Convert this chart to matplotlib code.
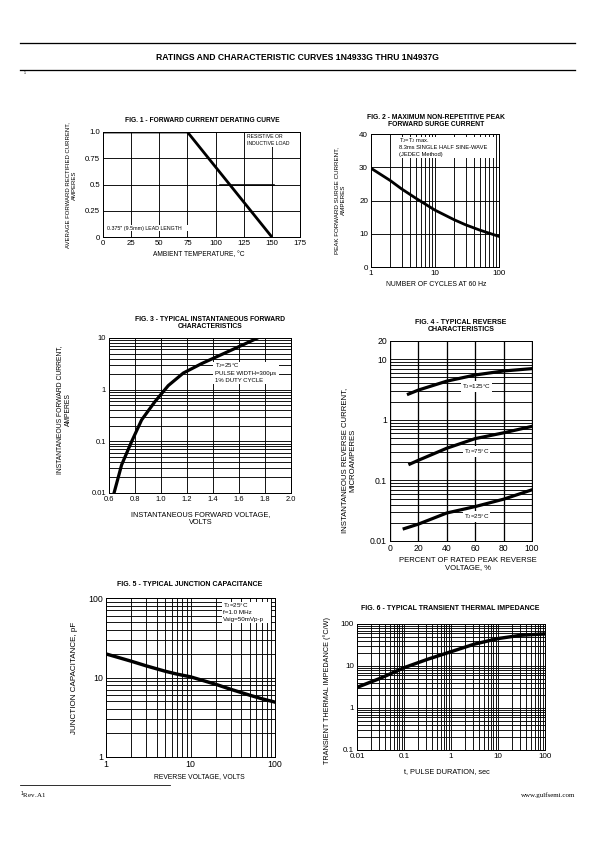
import matplotlib
matplotlib.use("Agg")
import matplotlib.pyplot as plt
import numpy as np
from matplotlib.ticker import NullFormatter, LogLocator
from matplotlib.patches import Rectangle

plt.rcParams['font.family'] = ['Liberation Sans', 'DejaVu Sans']
plt.rcParams['mathtext.fontset'] = 'custom'
plt.rcParams['mathtext.rm'] = 'Liberation Sans'
plt.rcParams['mathtext.it'] = 'Liberation Sans'

W, H = 595, 842

# ---------------- data ----------------
# Fig 1 derating
f1_temp = [0, 75, 150]
f1_curr = [1.0, 1.0, 0.0]
f1_xticks = [0, 25, 50, 75, 100, 125, 150, 175]
f1_yticks = [0, 0.25, 0.5, 0.75, 1.0]
f1_yticklabels = ["0", "0.25", "0.5", "0.75", "1.0"]

# Fig 2 surge
f2_cycles = [1, 2, 3, 5, 10, 20, 30, 50, 100]
f2_surge = [29.7, 26.0, 23.5, 20.7, 17.1, 14.2, 12.7, 11.1, 9.2]

# Fig 3 forward
f3_volt = [0.641, 0.697, 0.774, 0.851, 0.954, 1.056, 1.172, 1.313, 1.467, 1.621, 1.736]
f3_curr = [0.0105, 0.035, 0.099, 0.26, 0.59, 1.2, 2.1, 3.2, 4.8, 7.2, 9.8]

# Fig 4 reverse
f4_pct_125 = [13, 20, 40, 60, 80, 100]
f4_cur_125 = [2.66, 3.1, 4.35, 5.5, 6.4, 7.0]
f4_pct_75 = [14, 20, 40, 60, 80, 100]
f4_cur_75 = [0.186, 0.215, 0.34, 0.49, 0.61, 0.78]
f4_pct_25 = [10, 20, 40, 60, 80, 100]
f4_cur_25 = [0.016, 0.019, 0.029, 0.037, 0.049, 0.070]

# Fig 5 capacitance
f5_volt = [1, 2, 3, 5, 7, 10, 20, 30, 50, 70, 100]
f5_cap = [19.8, 16.0, 14.0, 12.0, 11.0, 10.2, 8.2, 7.1, 6.0, 5.4, 4.9]

# Fig 6 thermal impedance
f6_time = [0.01, 0.0314, 0.1, 0.314, 1, 3.1, 10, 31, 100]
f6_imp = [3.1, 5.1, 9.1, 14.4, 21.9, 33, 45, 54, 58]

fig = plt.figure(figsize=(W / 72, H / 72), dpi=72)


def rect(l, t, r, b):
    return [l / W, 1 - b / H, (r - l) / W, (b - t) / H]


def ftext(x, y, s, **kw):
    fig.text(x / W, 1 - y / H, s, **kw)


def style(ax, fs=8):
    for sp in ax.spines.values():
        sp.set_color('black')
        sp.set_linewidth(1.0)
    ax.tick_params(which='both', length=0, labelsize=fs, pad=3)
    ax.set_axisbelow(True)


def block(ax, x, ys, lines, fs, width, ha='left'):
    """White box with lines of text in axes coordinates."""
    step = (ys[0] - ys[-1]) / max(len(ys) - 1, 1) if len(ys) > 1 else 0.05
    top = ys[0] + step * 0.55
    bot = ys[-1] - step * 0.55
    ax.add_patch(Rectangle((x - 0.01, bot), width, top - bot, transform=ax.transAxes,
                           facecolor='white', edgecolor='none', zorder=3))
    for y, s in zip(ys, lines):
        ax.text(x, y, s, transform=ax.transAxes, fontsize=fs, ha=ha, va='center', zorder=4)


GL = dict(color='black', linewidth=0.9)

# ---------------- header/footer ----------------
fig.add_artist(plt.Line2D([20 / W, 575 / W], [1 - 43 / H, 1 - 43 / H], color='black', lw=1.3))
fig.add_artist(plt.Line2D([20 / W, 575 / W], [1 - 69.5 / H, 1 - 69.5 / H], color='black', lw=1.3))
ftext(297, 57, "RATINGS AND CHARACTERISTIC CURVES 1N4933G THRU 1N4937G",
      ha='center', va='center', fontsize=8.6, fontweight='bold')
ftext(25, 73, "1", ha='center', va='center', fontsize=3.5)
fig.add_artist(plt.Line2D([20 / W, 170 / W], [1 - 784.5 / H, 1 - 784.5 / H], color='black', lw=0.8))
ftext(20, 795, "$^{1}$Rev.A1", ha='left', va='center', fontsize=7, family='Liberation Serif')
ftext(575, 795, "www.gulfsemi.com", ha='right', va='center', fontsize=7, family='Liberation Serif')

# ---------------- Fig 1 ----------------
ax1 = fig.add_axes(rect(103, 132, 300, 237))
ax1.set_xlim(0, 175)
ax1.set_ylim(0, 1.0)
ax1.set_xticks(f1_xticks)
ax1.set_yticks(f1_yticks)
ax1.set_yticklabels(f1_yticklabels)
ax1.grid(True, **GL)
ax1.plot(f1_temp, f1_curr, color='black', lw=2.8, solid_capstyle='butt', zorder=5)
ax1.plot([104, 152], [0.5, 0.5], color='black', lw=1.6, zorder=5)
style(ax1, 7.8)
block(ax1, 0.729, [0.955, 0.892], ["RESISTIVE OR", "INDUCTIVE LOAD"], 5.1, 0.27)
block(ax1, 0.019, [0.083], ["0.375\" (9.5mm) LEAD LENGTH"], 5.3, 0.45)
ftext(202, 120, "FIG. 1 - FORWARD CURRENT DERATING CURVE", ha='center', va='center',
      fontsize=6.6, fontweight='bold')
ftext(199, 255, "AMBIENT TEMPERATURE, °C", ha='center', va='center', fontsize=6.6)
ftext(71, 185, "AVERAGE FORWARD RECTIFIED CURRENT,\nAMPERES", ha='center', va='center',
      rotation=90, fontsize=6.0, linespacing=1.35)

# ---------------- Fig 2 ----------------
ax2 = fig.add_axes(rect(371, 134, 499, 267))
ax2.set_xscale('log')
ax2.set_xlim(1, 100)
ax2.set_ylim(0, 40)
ax2.set_yticks([0, 10, 20, 30, 40])
ax2.set_xticks([1, 10, 100])
ax2.set_xticklabels(["1", "10", "100"])
ax2.xaxis.set_minor_locator(LogLocator(base=10, subs=np.arange(2, 10)))
ax2.xaxis.set_minor_formatter(NullFormatter())
ax2.grid(True, which='both', axis='x', **GL)
ax2.grid(True, which='major', axis='y', **GL)
ax2.plot(f2_cycles, f2_surge, color='black', lw=2.8, zorder=5)
style(ax2, 8)
block(ax2, 0.22, [0.95, 0.895, 0.845],
      ["T$_J$=T$_J$ max.", "8.3ms SINGLE HALF SINE-WAVE", "(JEDEC Method)"], 5.8, 0.76)
ftext(436, 121, "FIG. 2 - MAXIMUM NON-REPETITIVE PEAK\nFORWARD SURGE CURRENT", ha='center',
      va='center', fontsize=6.7, fontweight='bold', linespacing=1.15)
ftext(436, 284, "NUMBER OF CYCLES AT 60 Hz", ha='center', va='center', fontsize=6.9)
ftext(340, 200, "PEAK FORWARD SURGE CURRENT,\nAMPERES", ha='center', va='center',
      rotation=90, fontsize=6.2, linespacing=1.35)

# ---------------- Fig 3 ----------------
ax3 = fig.add_axes(rect(109, 338, 291, 493))
ax3.set_yscale('log')
ax3.set_xlim(0.6, 2.0)
ax3.set_ylim(0.01, 10)
ax3.set_xticks([0.6, 0.8, 1.0, 1.2, 1.4, 1.6, 1.8, 2.0])
ax3.set_xticklabels(["0.6", "0.8", "1.0", "1.2", "1.4", "1.6", "1.8", "2.0"])
ax3.set_yticks([0.01, 0.1, 1, 10])
ax3.set_yticklabels(["0.01", "0.1", "1", "10"])
ax3.yaxis.set_minor_locator(LogLocator(base=10, subs=np.arange(2, 10)))
ax3.yaxis.set_minor_formatter(NullFormatter())
ax3.grid(True, which='both', axis='y', **GL)
ax3.grid(True, which='major', axis='x', **GL)
ax3.plot(f3_volt, f3_curr, color='black', lw=3.2, zorder=5)
style(ax3, 7.5)
block(ax3, 0.582, [0.82, 0.774, 0.729],
      ["T$_J$=25°C", "PULSE WIDTH=300μs", "1% DUTY CYCLE"], 6.0, 0.36)
ftext(210, 323, "FIG. 3 - TYPICAL INSTANTANEOUS FORWARD\nCHARACTERISTICS", ha='center',
      va='center', fontsize=6.8, fontweight='bold', linespacing=1.15)
ftext(201, 519, "INSTANTANEOUS FORWARD VOLTAGE,\nVOLTS", ha='center', va='center',
      fontsize=7.4, linespacing=1.2)
ftext(64, 410, "INSTANTANEOUS FORWARD CURRENT,\nAMPERES", ha='center', va='center',
      rotation=90, fontsize=6.7, linespacing=1.35)

# ---------------- Fig 4 ----------------
ax4 = fig.add_axes(rect(390, 341, 532, 541))
ax4.set_yscale('log')
ax4.set_xlim(0, 100)
ax4.set_ylim(0.01, 20)
ax4.set_xticks([0, 20, 40, 60, 80, 100])
ax4.set_yticks([0.01, 0.1, 1, 10, 20])
ax4.set_yticklabels(["0.01", "0.1", "1", "10", "20"])
ax4.yaxis.set_minor_locator(LogLocator(base=10, subs=np.arange(2, 10)))
ax4.yaxis.set_minor_formatter(NullFormatter())
ax4.grid(True, which='both', axis='y', **GL)
ax4.grid(True, which='major', axis='x', color='black', linewidth=1.3)
ax4.plot(f4_pct_125, f4_cur_125, color='black', lw=3.2, zorder=5)
ax4.plot(f4_pct_75, f4_cur_75, color='black', lw=3.2, zorder=5)
ax4.plot(f4_pct_25, f4_cur_25, color='black', lw=3.2, zorder=5)
style(ax4, 8.6)
for xv, yv, s in [(61, 3.5, "T$_J$=125°C"), (61, 0.30, "T$_J$=75°C"), (61, 0.025, "T$_J$=25°C")]:
    ax4.text(xv, yv, s, fontsize=6.2, ha='center', va='center', zorder=6,
             bbox=dict(facecolor='white', edgecolor='none', pad=1))
ftext(461, 326, "FIG. 4 - TYPICAL REVERSE\nCHARACTERISTICS", ha='center', va='center',
      fontsize=7.0, fontweight='bold', linespacing=1.15)
ftext(468, 564, "PERCENT OF RATED PEAK REVERSE\nVOLTAGE, %", ha='center', va='center',
      fontsize=7.6, linespacing=1.15)
ftext(349, 460, "INSTANTANEOUS REVERSE CURRENT,\nMICROAMPERES", ha='center', va='center',
      rotation=90, fontsize=7.8, linespacing=1.2)

# ---------------- Fig 5 ----------------
ax5 = fig.add_axes(rect(106, 598, 275, 757))
ax5.set_xscale('log')
ax5.set_yscale('log')
ax5.set_xlim(1, 100)
ax5.set_ylim(1, 100)
ax5.set_xticks([1, 10, 100])
ax5.set_xticklabels(["1", "10", "100"])
ax5.set_yticks([1, 10, 100])
ax5.set_yticklabels(["1", "10", "100"])
for a in (ax5.xaxis, ax5.yaxis):
    a.set_minor_locator(LogLocator(base=10, subs=np.arange(2, 10)))
    a.set_minor_formatter(NullFormatter())
ax5.grid(True, which='both', **GL)
ax5.plot(f5_volt, f5_cap, color='black', lw=3.4, zorder=5)
style(ax5, 8.8)
block(ax5, 0.694, [0.952, 0.908, 0.864],
      ["T$_J$=25°C", "f=1.0 MHz", "Vsig=50mVp-p"], 6.2, 0.29)
ftext(190, 585, "FIG. 5 - TYPICAL JUNCTION CAPACITANCE", ha='center', va='center',
      fontsize=7.0, fontweight='bold')
ftext(199, 777, "REVERSE VOLTAGE, VOLTS", ha='center', va='center', fontsize=6.8)
ftext(74, 678, "JUNCTION CAPACITANCE, pF", ha='center', va='center', rotation=90, fontsize=8.0)

# ---------------- Fig 6 ----------------
ax6 = fig.add_axes(rect(357, 624, 545, 750))
ax6.set_xscale('log')
ax6.set_yscale('log')
ax6.set_xlim(0.01, 100)
ax6.set_ylim(0.1, 100)
ax6.set_xticks([0.01, 0.1, 1, 10, 100])
ax6.set_xticklabels(["0.01", "0.1", "1", "10", "100"])
ax6.set_yticks([0.1, 1, 10, 100])
ax6.set_yticklabels(["0.1", "1", "10", "100"])
for a in (ax6.xaxis, ax6.yaxis):
    a.set_minor_locator(LogLocator(base=10, subs=np.arange(2, 10)))
    a.set_minor_formatter(NullFormatter())
ax6.grid(True, which='both', **GL)
ax6.plot(f6_time, f6_imp, color='black', lw=3.4, zorder=5)
style(ax6, 8)
ftext(450, 609, "FIG. 6 - TYPICAL TRANSIENT THERMAL IMPEDANCE", ha='center', va='center',
      fontsize=7.0, fontweight='bold')
ftext(447, 772, "t, PULSE DURATION, sec", ha='center', va='center', fontsize=7.4)
ftext(327, 690, "TRANSIENT THERMAL IMPEDANCE (°C/W)", ha='center', va='center',
      rotation=90, fontsize=7.3)

fig.savefig("out.png", dpi=72)
